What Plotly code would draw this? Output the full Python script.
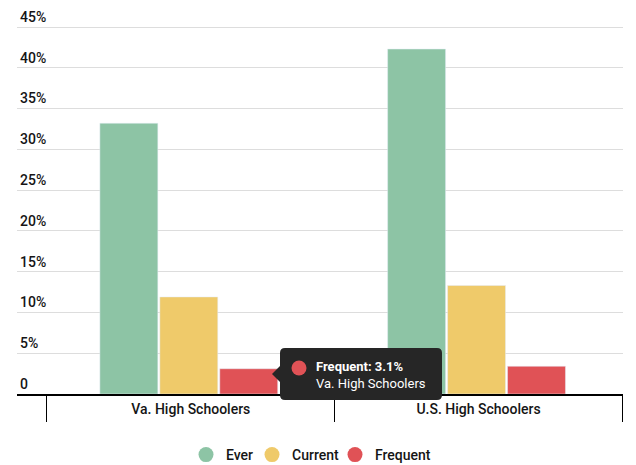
import plotly.graph_objects as go

categories = ["Va. High Schoolers", "U.S. High Schoolers"]
series_names = ["Ever", "Current", "Frequent"]
ever = [33.2, 42.3]
current = [11.9, 13.3]
frequent = [3.1, 3.4]
colors = ["#8dc4a5", "#efca6a", "#e05256"]
ytick_vals = [0, 5, 10, 15, 20, 25, 30, 35, 40, 45]
ytick_text = ["0", "5%", "10%", "15%", "20%", "25%", "30%", "35%", "40%", "45%"]

W, H = 636, 465
L, R, T, B = 17, 13, 5, 71
pw, ph = W - L - R, H - T - B
YMAX = 45 + 22 / (367 / 45)
TXT = "#151515"
BAR_W = 58 / 288
BAR_OFFSETS = [-91 / 288, -31 / 288, 29 / 288]


def px(x):
    return (x - L) / pw


def py(y):
    return (H - B - y) / ph


fig = go.Figure()
for name, vals, col, off in zip(series_names, [ever, current, frequent], colors, BAR_OFFSETS):
    fig.add_trace(go.Bar(x=categories, y=vals, name=name, marker_color=col,
                         width=BAR_W, offset=off,
                         showlegend=False, hoverinfo="skip"))
legend_ids = ["legend", "legend2", "legend3"]
legend_x = [207, 273, 356]
for name, col, lid in zip(series_names, colors, legend_ids):
    fig.add_trace(go.Scatter(x=[None], y=[None], mode="markers", name=name, legend=lid,
                             marker=dict(symbol="circle", size=15, color=col)))

# tooltip mimic (rounded box)
x0, x1, y0, y1, r = 280, 442, 348, 400, 5
pts = [
    (x0 + r, y0), (x1 - r, y0), ("Q", x1, y0, x1, y0 + r), (x1, y1 - r),
    ("Q", x1, y1, x1 - r, y1), (x0 + r, y1), ("Q", x0, y1, x0, y1 - r),
    (x0, 382), (272, 374), (x0, 366), (x0, y0 + r), ("Q", x0, y0, x0 + r, y0),
]
path = ""
for i, p in enumerate(pts):
    if p[0] == "Q":
        path += f" Q {px(p[1])} {py(p[2])} {px(p[3])} {py(p[4])}"
    else:
        path += f" {'M' if i == 0 else 'L'} {px(p[0])} {py(p[1])}"
path += " Z"
fig.add_shape(type="path", xref="paper", yref="paper", path=path,
              fillcolor="#262626", line_width=0, layer="above")
fig.add_shape(type="circle", xref="paper", yref="paper",
              x0=px(291.5), x1=px(306.5), y0=py(375.5), y1=py(360.5),
              fillcolor=colors[2], line_width=0, layer="above")
fig.add_annotation(xref="paper", yref="paper", x=px(314), y=py(375),
                   xanchor="left", yanchor="middle", align="left", showarrow=False,
                   text=f"<b>{series_names[2]}: {frequent[0]}%</b><br>{categories[0]}",
                   font=dict(family="Roboto", size=13, color="white"))

leg_common = dict(orientation="h", xref="container", yref="container", xanchor="left",
                  y=1 - 455 / H, yanchor="middle", bgcolor="rgba(0,0,0,0)",
                  font=dict(size=14, color=TXT, weight=500), itemsizing="trace")
fig.update_layout(
    width=W, height=H,
    margin=dict(l=L, r=R, t=T, b=B, pad=0, autoexpand=False),
    paper_bgcolor="white", plot_bgcolor="white",
    font=dict(family="Roboto", size=14, color=TXT),
    barmode="overlay",
    showlegend=True,
    legend=dict(x=(legend_x[0] - 21) / W, **leg_common),
    legend2=dict(x=(legend_x[1] - 21) / W, **leg_common),
    legend3=dict(x=(legend_x[2] - 21) / W, **leg_common),
    hovermode=False,
)
fig.update_xaxes(
    type="category", range=[-0.604, 1.502], showline=True, linecolor="black", linewidth=2,
    ticks="outside", tickson="boundaries", ticklen=26, tickcolor="black", tickwidth=1,
    ticklabelstandoff=1, showgrid=False, tickfont=dict(size=14, color=TXT, weight=500),
)
fig.update_yaxes(
    range=[0, YMAX], tickvals=ytick_vals, ticktext=ytick_text,
    ticklabelposition="inside", ticklabelshift=-10, ticklabelstandoff=0,
    showgrid=True, gridcolor="#dddddd", gridwidth=1, zeroline=False,
    tickfont=dict(size=14, color=TXT, weight=500), showline=False,
)

fig.write_html("out.html")
